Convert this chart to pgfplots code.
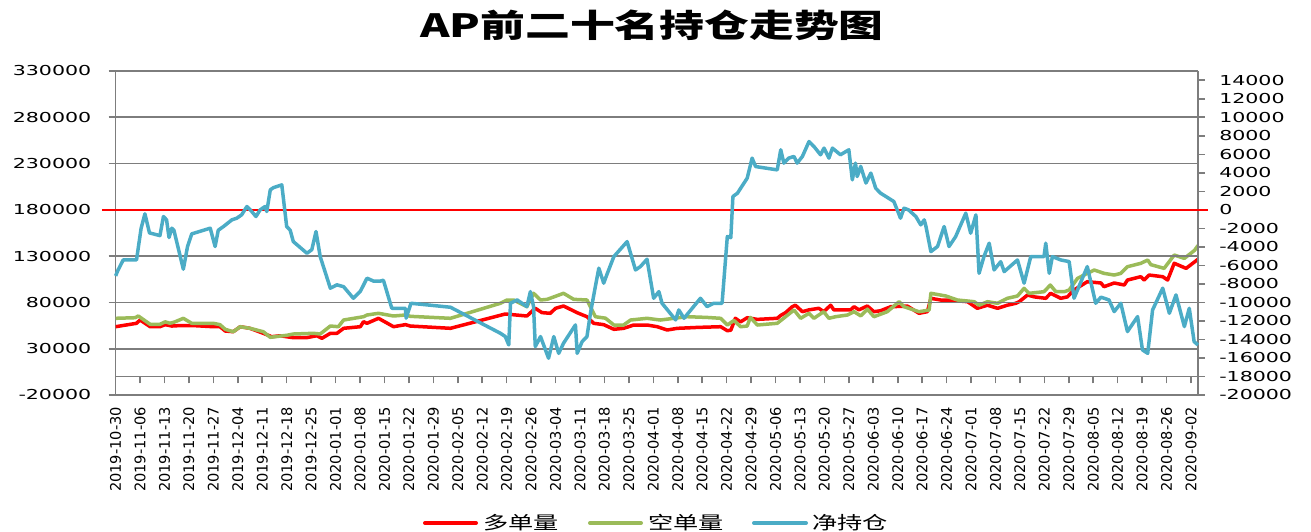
\documentclass[border=0pt]{standalone}
\usepackage{fontspec}
\setmainfont{DejaVu Sans}
\newfontfamily\cjk{Noto Sans CJK SC}
\usepackage{graphicx}
\usepackage{pgfplots}
\usepackage{pgfplotstable}
\pgfplotsset{compat=1.18}
\definecolor{cred}{RGB}{255,0,0}
\definecolor{cgreen}{RGB}{155,187,89}
\definecolor{cblue}{RGB}{75,172,198}
\definecolor{cgrid}{RGB}{125,125,125}

\pgfplotstableread{
x y
0 53780
6.0 57450
7.0 61000
9.9 53780
12.7 53780
14.2 56000
16.1 54500
18.5 55000
22.2 55000
28.0 53780
29.9 53780
31.4 49130
33.7 48380
35.7 53780
38.5 52000
42.3 46640
44.7 42970
47.1 44000
50.9 41900
54.8 42000
57.6 44000
59.1 41250
61.5 46640
63.4 46640
65.3 52050
70.1 53780
71.0 59180
72.0 57450
75.3 62850
79.6 53780
83.0 56000
84.4 54500
95.9 52050
111.6 67500
117.8 65340
120.2 73650
122.1 69000
124.5 68250
126.0 73650
128.3 76140
132.2 68900
135.0 64580
136.9 57450
139.8 56000
142.7 50970
145.5 52000
148.4 55610
152.2 55610
155.1 53780
158.0 50210
160.8 52000
166.6 53000
173.3 53780
175.2 49460
176.2 50000
177.5 62850
179.0 59000
180.9 63500
183.8 61700
189.5 62850
190.5 66000
191.9 69000
193.8 75380
194.7 77000
196.7 70000
198.6 72000
201.4 73650
202.8 70000
204.8 77000
205.7 72000
210.5 72000
211.5 75380
212.9 72000
215.3 76140
217.2 70000
219.1 71060
222.0 75380
226.8 76000
230.1 68250
232.5 70000
233.5 84450
236.3 82600
238.2 82600
244.0 80800
246.8 73650
249.7 77000
252.6 73650
255.4 77000
257.8 79060
258.8 80800
261.2 88020
263.1 86000
266.4 84450
267.8 89860
270.7 84450
272.6 86000
274.5 93420
278.3 102400
282.2 101000
283.1 96980
286.0 101000
288.9 98800
289.8 104200
293.6 107800
294.6 104200
296.0 109600
299.9 107800
301.3 104200
303.2 122300
306.6 116800
310.0 126600
}\longdata

\pgfplotstableread{
x y
0 62850
5.6 63500
6.5 65340
9.9 56370
12.7 56370
14.2 59000
15.6 57500
17.0 59000
19.4 62850
21.8 57450
28.0 57450
29.9 56000
31.4 50970
33.7 48380
35.7 53780
38.5 52000
42.3 48380
44.3 42300
49.0 44500
50.9 45890
56.7 46640
58.6 45890
61.5 54530
63.8 53780
65.3 61000
71.0 64580
72.0 66420
75.3 68250
79.6 65340
83.0 66420
84.4 65000
95.9 62850
110.2 79060
112.1 82620
114.0 82620
117.8 75380
119.7 89860
121.7 82620
123.6 83330
128.3 89860
131.2 83330
135.0 82620
137.4 64580
140.3 63000
142.7 55610
145.5 55610
147.5 61000
152.2 62850
156.0 61000
159.9 62850
163.7 64580
169.4 63800
173.3 62850
175.2 55610
177.1 60500
179.0 53780
180.9 54500
181.8 63800
183.8 55610
189.5 57450
194.3 71800
196.2 62850
198.6 68250
200.0 62850
202.8 69980
204.3 62850
206.2 64580
209.6 66420
211.5 69980
213.4 65500
215.3 72700
217.2 64580
221.0 69980
224.4 80800
225.8 75380
230.1 69980
233.0 71800
233.5 89860
237.8 86940
241.1 82620
245.9 80800
247.3 77000
249.7 80800
252.6 79060
255.4 84450
258.3 86940
260.2 95240
261.6 89860
265.9 91580
267.7 98800
269.3 91580
271.7 91580
273.1 93420
275.5 106000
278.3 111400
280.3 115000
283.1 111400
286.0 109600
287.9 111400
289.8 118600
293.6 122200
295.6 125800
296.5 120800
300.3 116800
303.2 131200
306.1 127600
309.0 136200
310.0 141500
}\shortdata

\pgfplotstableread{
x y
0 -7135
0.7 -6500
2.2 -5400
6.0 -5400
7.3 -2000
8.4 -430
9.7 -2490
12.7 -2780
13.7 -720
14.6 -1080
15.3 -2990
16.1 -1980
16.7 -2200
19.4 -6410
20.6 -3960
21.8 -2595
27.1 -1980
28.5 -3960
29.4 -2200
30.9 -1800
33.3 -1080
34.7 -900
36.1 -540
37.6 360
39.0 -180
40.2 -720
41.4 0
42.8 360
43.3 -180
44.3 2160
45.2 2400
47.6 2700
49.0 -1800
50.0 -2200
50.9 -3430
54.8 -4690
56.2 -4300
57.4 -2340
58.6 -5050
61.5 -8460
63.4 -8100
65.3 -8300
68.1 -9550
70.1 -8800
72.0 -7380
73.9 -7700
75.8 -7700
76.7 -7600
79.1 -10630
83.0 -10630
83.2 -11700
84.6 -10090
95.9 -10520
110.2 -13330
111.6 -13680
112.6 -14590
113.1 -10090
115.0 -9730
117.8 -10450
118.8 -8830
119.7 -10450
120.2 -14770
121.7 -13690
124.0 -16030
125.5 -13690
126.9 -15500
128.3 -14400
131.7 -12430
132.2 -15500
133.6 -14240
135.0 -13690
136.0 -11170
137.4 -8290
138.4 -6300
139.8 -7920
140.7 -7000
142.7 -5050
146.5 -3430
148.9 -6490
150.3 -6130
152.2 -5330
154.1 -9550
155.6 -8830
156.5 -10090
160.4 -11890
161.3 -10810
162.8 -11710
167.5 -9550
169.4 -10450
171.3 -10090
173.7 -10090
175.2 -2880
176.2 -3000
176.8 1440
178.1 1800
180.9 3430
182.3 5590
183.3 4680
189.5 4320
190.5 6490
191.4 5050
192.8 5590
194.3 5770
195.2 5050
196.7 5770
198.6 7380
200.0 6850
201.9 5950
202.9 6670
204.3 5590
205.3 6670
207.6 5950
210.0 6490
211.0 3240
211.9 5050
212.4 3600
213.4 4700
214.9 2900
216.3 3970
217.7 2340
219.1 1800
222.9 900
224.8 -900
225.8 180
227.1 0
229.2 -720
230.6 -1620
231.6 -1080
232.1 -1800
233.5 -4510
235.4 -3960
237.3 -1800
238.7 -3960
240.6 -2880
243.5 -360
244.9 -2520
246.4 -540
247.3 -6850
248.7 -5050
250.2 -3600
251.6 -6490
253.5 -5600
254.5 -6670
258.3 -5410
260.2 -7920
262.1 -5050
265.9 -5050
266.4 -3600
267.4 -6850
268.3 -5050
270.7 -5410
273.1 -5590
274.5 -9550
278.3 -6130
280.7 -10090
282.2 -9430
284.5 -9730
286.0 -10990
287.9 -10090
289.8 -13150
292.7 -11530
294.1 -15130
295.6 -15500
297.0 -10810
299.9 -8460
301.8 -11170
303.7 -9190
306.1 -12610
307.5 -10630
308.9 -14240
310.0 -14590
}\netdata

\pgfplotsset{
  common/.style={
    scale only axis, width=1082.4pt, height=324pt,
    at={(115.6pt,136pt)}, anchor=south west,
    xmin=0, xmax=310,
    scaled y ticks=false,
    tick align=outside, major tick length=7pt,
    axis line style={cgrid, line width=1.6pt},
    tick style={cgrid, line width=1.6pt},
  }
}

\begin{document}
\begin{tikzpicture}
\path[use as bounding box] (0,0) rectangle (1311pt,531pt);
\begin{axis}[common,
  ymin=-20000, ymax=330000, ytick={-20000,30000,80000,130000,180000,230000,280000,330000},
  yticklabels={-20000,30000,80000,130000,180000,230000,280000,330000},
  axis y line*=left, axis x line*=middle,
  hide obscured x ticks=false,
  xtick={0,7,...,308},
  xticklabels={2019-10-30,2019-11-06,2019-11-13,2019-11-20,2019-11-27,2019-12-04,2019-12-11,2019-12-18,2019-12-25,2020-01-01,2020-01-08,2020-01-15,2020-01-22,2020-01-29,2020-02-05,2020-02-12,2020-02-19,2020-02-26,2020-03-04,2020-03-11,2020-03-18,2020-03-25,2020-04-01,2020-04-08,2020-04-15,2020-04-22,2020-04-29,2020-05-06,2020-05-13,2020-05-20,2020-05-27,2020-06-03,2020-06-10,2020-06-17,2020-06-24,2020-07-01,2020-07-08,2020-07-15,2020-07-22,2020-07-29,2020-08-05,2020-08-12,2020-08-19,2020-08-26,2020-09-02},
  xticklabel style={font=\fontsize{14.6}{15}\selectfont, yshift=-20pt, rotate=90, anchor=east},
  yticklabel style={font=\fontsize{13.7}{14}\selectfont, xshift=-12pt, xscale=1.5, anchor=east},
  ymajorgrids=true,
  grid style={draw=cgrid, line width=1.6pt},
  major grid style={draw=cgrid, line width=1.6pt},
]
\addplot[draw=cgrid, line width=1.6pt, forget plot] coordinates {(0,0) (310,0)};
\addplot[cred, line width=3.5pt, line join=round] table {\longdata};
\addplot[cgreen, line width=3.5pt, line join=round] table {\shortdata};
\end{axis}
\begin{axis}[common,
  ymin=-20000, ymax=15000,
  ytick={-20000,-18000,-16000,-14000,-12000,-10000,-8000,-6000,-4000,-2000,0,2000,4000,6000,8000,10000,12000,14000},
  yticklabels={-20000,-18000,-16000,-14000,-12000,-10000,-8000,-6000,-4000,-2000,0,2000,4000,6000,8000,10000,12000,14000},
  axis y line*=right, axis x line=none, clip=false,
  yticklabel style={font=\fontsize{13.7}{14}\selectfont, xshift=9pt, xscale=1.5, anchor=west},
]
\addplot[draw=cgrid, line width=1.6pt, forget plot] coordinates {(0,15000) (310,15000)};
\addplot[draw=cgrid, line width=1.6pt, forget plot] coordinates {(0,10000) (310,10000)};
\addplot[draw=cgrid, line width=1.6pt, forget plot] coordinates {(0,5000) (310,5000)};
\addplot[draw=cgrid, line width=1.6pt, forget plot] coordinates {(0,-5000) (310,-5000)};
\addplot[draw=cgrid, line width=1.6pt, forget plot] coordinates {(0,-10000) (310,-10000)};
\addplot[draw=cgrid, line width=1.6pt, forget plot] coordinates {(0,-15000) (310,-15000)};
\addplot[draw=cgrid, line width=1.6pt, forget plot] coordinates {(0,-18000) (310,-18000)};
\addplot[draw=cgrid, line width=1.6pt, forget plot] coordinates {(0,-20000) (310,-20000)};
\addplot[cred, line width=1.3pt] coordinates {(-3.9,0) (312.9,0)};
\addplot[cblue, line width=3.5pt, line join=round] table {\netdata};
\end{axis}
\node at (652pt,506pt) {\cjk\bfseries\fontsize{32}{32}\selectfont\scalebox{1.4}[1]{AP前二十名持仓走势图}};
% legend
\begin{scope}[font=\cjk\fontsize{18}{18}\selectfont]
\draw[cred, line width=4pt, line cap=round] (425pt,8pt) -- (476pt,8pt);
\node[anchor=west, inner sep=0pt] at (483pt,8pt) {\scalebox{1.4}[1]{多单量}};
\draw[cgreen, line width=4pt, line cap=round] (590pt,8pt) -- (641pt,8pt);
\node[anchor=west, inner sep=0pt] at (648pt,8pt) {\scalebox{1.4}[1]{空单量}};
\draw[cblue, line width=4pt, line cap=round] (754pt,8pt) -- (806pt,8pt);
\node[anchor=west, inner sep=0pt] at (812pt,8pt) {\scalebox{1.4}[1]{净持仓}};
\end{scope}
\end{tikzpicture}
\end{document}
